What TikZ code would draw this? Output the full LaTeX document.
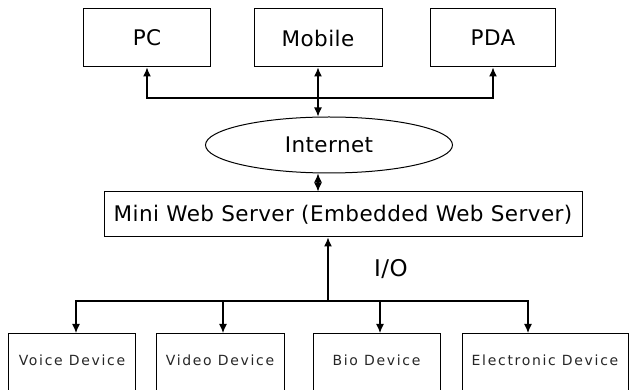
\documentclass[tikz,border=0pt]{standalone}
\usepackage{fontspec}
\setmainfont{DejaVu Sans}
\newfontfamily\boxfont[LetterSpace=2]{DejaVu Sans}
\newfontfamily\devfont[LetterSpace=12]{DejaVu Sans}
\usetikzlibrary{arrows.meta, shapes.geometric, positioning}

\tikzset{
	box/.style={draw, line width=1pt, minimum height=58pt, font=\boxfont\fontsize{21.5}{23}\selectfont},
	devbox/.style={draw, line width=1pt, anchor=north, inner ysep=0pt, text height=32pt, text depth=30pt, text=black!85, font=\devfont\fontsize{14}{16}\selectfont},
	link/.style={line width=1.2pt, -{Latex[length=9pt,width=8pt]}},
	dlink/.style={line width=1.2pt, {Latex[length=9pt,width=8pt]}-{Latex[length=9pt,width=8pt]}}
}

\begin{document}
\begin{tikzpicture}[x=1pt, y=-1pt]
		\useasboundingbox (0,0) rectangle (630,390);
		\clip (0,0) rectangle (630,390);
		
		% Clients
		\node[box, minimum width=127pt] (pc) at (147,38) {PC};
		\node[box, minimum width=128pt] (mobile) at (318,38) {Mobile};
		\node[box, minimum width=125pt] (pda) at (493,38) {PDA};
		
		% Internet
		\node[draw, ellipse, line width=1pt, minimum width=247pt, minimum height=56pt, font=\boxfont\fontsize{21.5}{23}\selectfont] (internet) at (329,145) {Internet};
		\coordinate (topbus) at (318,98);
		\draw[dlink] (pc.south) |- (topbus) -| (pda.south);
		\draw[dlink] (mobile.south) -- (mobile.south |- internet.north);
		
		% Server
		\node[box, minimum width=478pt, minimum height=45pt] (server) at (343,214.5) {Mini Web Server (Embedded Web Server)};
		\draw[dlink] (mobile.south |- internet.south) -- (mobile.south |- server.north);
		
		% Devices
		\node[devbox, minimum width=127pt] (voice) at (72,333) {Voice Device};
		\node[devbox, minimum width=128pt] (video) at (220,333) {Video Device};
		\node[devbox, minimum width=127pt] (bio) at (376.5,333) {Bio Device};
		\node[devbox, minimum width=166pt] (elec) at (545,333) {Electronic Device};
		
		\coordinate (iobus) at (328,301);
		\draw[link] (iobus) -- (iobus |- server.south);
		\node[font=\boxfont\fontsize{23}{25}\selectfont] (io) at (391,269) {I/O};
		\draw[link] (iobus) -| ([xshift=4pt]voice.north);
		\draw[link] (iobus) -| ([xshift=3pt]video.north);
		\draw[link] (iobus) -| ([xshift=3.5pt]bio.north);
		\draw[link] (iobus) -| ([xshift=-17pt]elec.north);
	\end{tikzpicture}
\end{document}
